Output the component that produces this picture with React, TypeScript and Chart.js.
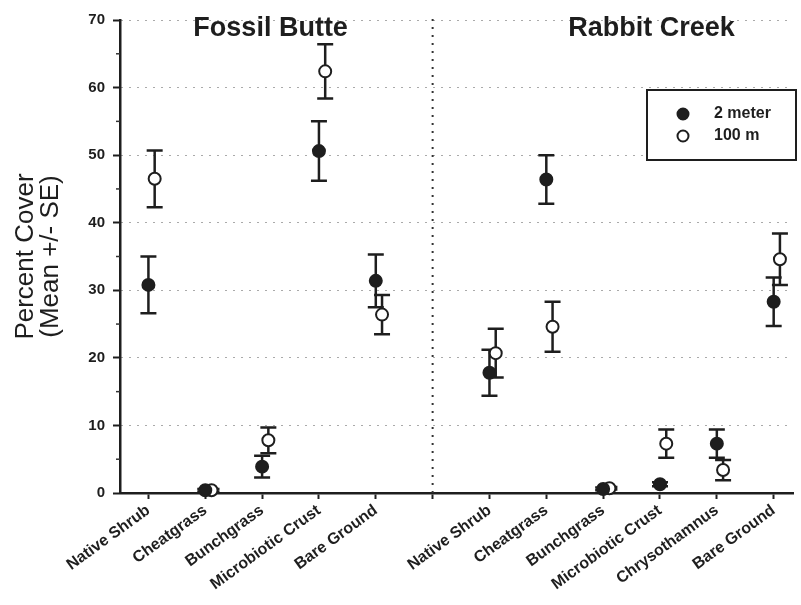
import React, { useEffect, useRef } from "react";
import { Chart, registerables } from "chart.js";

Chart.register(...registerables);

const fossilButteCategories = ["Native Shrub", "Cheatgrass", "Bunchgrass", "Microbiotic Crust", "Bare Ground"];
const rabbitCreekCategories = ["Native Shrub", "Cheatgrass", "Bunchgrass", "Microbiotic Crust", "Chrysothamnus", "Bare Ground"];
const tickLabels = [...fossilButteCategories, "", ...rabbitCreekCategories];

const siteTitles = ["Fossil Butte", "Rabbit Creek"];
const seriesNames = ["2 meter", "100 m"];

// Fossil Butte
const fb2mMean = [30.8, 0.4, 3.9, 50.6, 31.4];
const fb2mSE = [4.2, 0.2, 1.6, 4.4, 3.9];
const fb100Mean = [46.5, 0.4, 7.8, 62.4, 26.4];
const fb100SE = [4.2, 0.2, 1.9, 4.0, 2.9];

// Rabbit Creek
const rc2mMean = [17.8, 46.4, 0.6, 1.3, 7.3, 28.3];
const rc2mSE = [3.4, 3.6, 0.2, 0.3, 2.1, 3.6];
const rc100Mean = [20.7, 24.6, 0.7, 7.3, 3.4, 34.6];
const rc100SE = [3.6, 3.7, 0.2, 2.1, 1.5, 3.8];

const yTicks = [0, 10, 20, 30, 40, 50, 60, 70];

const FONT = "'Liberation Sans', Arial, Helvetica, sans-serif";
const INK = "#1e1e1e";

function buildPoints(fb: number[], rc: number[], fbSe: number[], rcSe: number[], offset: number) {
  const pts: { x: number; y: number; se: number }[] = [];
  fb.forEach((v, i) => pts.push({ x: i + offset, y: v, se: fbSe[i] }));
  rc.forEach((v, i) => pts.push({ x: i + fossilButteCategories.length + 1 + offset, y: v, se: rcSe[i] }));
  return pts;
}

const errorBarPlugin = {
  id: "errorBars",
  beforeDatasetsDraw(chart: any) {
    const { ctx, scales } = chart;
    const xs = scales.x;
    const ys = scales.y;
    ctx.save();
    ctx.strokeStyle = INK;
    ctx.lineWidth = 2.5;
    chart.data.datasets.forEach((ds: any) => {
      ds.data.forEach((p: any) => {
        const x = xs.getPixelForValue(p.x);
        const yt = ys.getPixelForValue(p.y + p.se);
        const yb = ys.getPixelForValue(p.y - p.se);
        ctx.beginPath();
        ctx.moveTo(x, yt);
        ctx.lineTo(x, yb);
        ctx.moveTo(x - 8, yt);
        ctx.lineTo(x + 8, yt);
        ctx.moveTo(x - 8, yb);
        ctx.lineTo(x + 8, yb);
        ctx.stroke();
      });
    });
    ctx.restore();
  },
};

const decorPlugin = {
  id: "decor",
  beforeDatasetsDraw(chart: any) {
    const { ctx, scales, chartArea } = chart;
    const xs = scales.x;
    const ys = scales.y;
    ctx.save();
    // dotted divider between sites
    const dx = xs.getPixelForValue(fossilButteCategories.length);
    ctx.strokeStyle = "#333";
    ctx.lineWidth = 2;
    ctx.setLineDash([2, 6]);
    ctx.beginPath();
    ctx.moveTo(dx, ys.getPixelForValue(0));
    ctx.lineTo(dx, chartArea.top - 5);
    ctx.stroke();
    ctx.setLineDash([]);
    // minor y ticks
    ctx.lineWidth = 1.5;
    for (let v = 5; v < 70; v += 10) {
      const y = ys.getPixelForValue(v);
      ctx.beginPath();
      ctx.moveTo(chartArea.left - 4, y);
      ctx.lineTo(chartArea.left, y);
      ctx.stroke();
    }
    ctx.restore();
  },
  afterDraw(chart: any) {
    const { ctx, scales, chartArea } = chart;
    const xs = scales.x;
    ctx.save();
    // site titles
    ctx.fillStyle = INK;
    ctx.font = `bold 27px ${FONT}`;
    ctx.textAlign = "center";
    ctx.textBaseline = "middle";
    ctx.fillText(siteTitles[0], xs.getPixelForValue(2.15), chartArea.top + 9);
    ctx.fillText(siteTitles[1], xs.getPixelForValue(8.85), chartArea.top + 9);

    // legend box
    const lx = 647, ly = 90, lw = 149, lh = 70;
    ctx.strokeStyle = INK;
    ctx.lineWidth = 2;
    ctx.fillStyle = "#ffffff";
    ctx.fillRect(lx, ly, lw, lh);
    ctx.strokeRect(lx, ly, lw, lh);
    const rows = [ly + 24, ly + 46];
    chart.data.datasets.forEach((ds: any, i: number) => {
      ctx.beginPath();
      ctx.arc(lx + 36, rows[i], 5.5, 0, Math.PI * 2);
      ctx.fillStyle = ds.backgroundColor;
      ctx.fill();
      ctx.lineWidth = 2;
      ctx.strokeStyle = INK;
      ctx.stroke();
      ctx.fillStyle = INK;
      ctx.font = `bold 16px ${FONT}`;
      ctx.textAlign = "left";
      ctx.textBaseline = "middle";
      ctx.fillText(ds.label, lx + 67, rows[i]);
    });
    ctx.restore();
  },
};

export default function App() {
  const ref = useRef<HTMLCanvasElement | null>(null);

  useEffect(() => {
    if (!ref.current) return;
    const chart = new Chart(ref.current, {
      type: "scatter",
      data: {
        datasets: [
          {
            label: seriesNames[0],
            data: buildPoints(fb2mMean, rc2mMean, fb2mSE, rc2mSE, 0),
            backgroundColor: INK,
            borderColor: INK,
            borderWidth: 2,
            pointRadius: 6,
            clip: false,
          } as any,
          {
            label: seriesNames[1],
            data: buildPoints(fb100Mean, rc100Mean, fb100SE, rc100SE, 0.11),
            backgroundColor: "#ffffff",
            borderColor: INK,
            borderWidth: 2,
            pointRadius: 6,
            clip: false,
          } as any,
        ],
      },
      options: {
        responsive: false,
        animation: false,
        layout: { padding: { top: 20, right: 0, left: 0, bottom: 0 } },
        plugins: {
          legend: { display: false },
          tooltip: { enabled: false },
        },
        scales: {
          x: {
            type: "linear",
            min: -0.5,
            max: 11.34,
            afterBuildTicks(scale: any) {
              scale.ticks = tickLabels.map((_, i) => ({ value: i }));
            },
            afterFit(scale: any) {
              scale.height = 112;
            },
            grid: {
              drawOnChartArea: false,
              drawTicks: true,
              tickLength: 6,
              tickColor: INK,
              tickWidth: 2,
            },
            border: { color: INK, width: 2.5 },
            ticks: {
              autoSkip: false,
              minRotation: 36,
              maxRotation: 36,
              padding: 2,
              color: INK,
              font: { family: FONT, size: 16, weight: "bold" },
              callback: (v: any) => tickLabels[Number(v)] ?? "",
            },
          },
          y: {
            type: "linear",
            min: 0,
            max: 70,
            afterBuildTicks(scale: any) {
              scale.ticks = yTicks.map((v) => ({ value: v }));
            },
            afterFit(scale: any) {
              scale.width = 120;
            },
            title: {
              display: true,
              text: ["Percent Cover", "(Mean +/- SE)"],
              color: INK,
              font: { family: FONT, size: 26, lineHeight: 0.94 },
              padding: { top: 14, bottom: 0 },
            },
            grid: {
              color: "#555",
              lineWidth: 1,
              drawTicks: true,
              tickLength: 7,
              tickColor: INK,
              tickWidth: 2,
              tickBorderDash: [],
            },
            border: { color: INK, width: 2.5, dash: [1, 7] },
            ticks: {
              padding: 8,
              color: INK,
              font: { family: FONT, size: 15, weight: "bold" },
            },
          },
        },
      } as any,
      plugins: [errorBarPlugin, decorPlugin],
    });
    return () => chart.destroy();
  }, []);

  return (
    <div style={{ position: "absolute", left: 0, top: 0, width: 801, height: 605, background: "#fff" }}>
      <canvas ref={ref} width={801} height={605} />
    </div>
  );
}
